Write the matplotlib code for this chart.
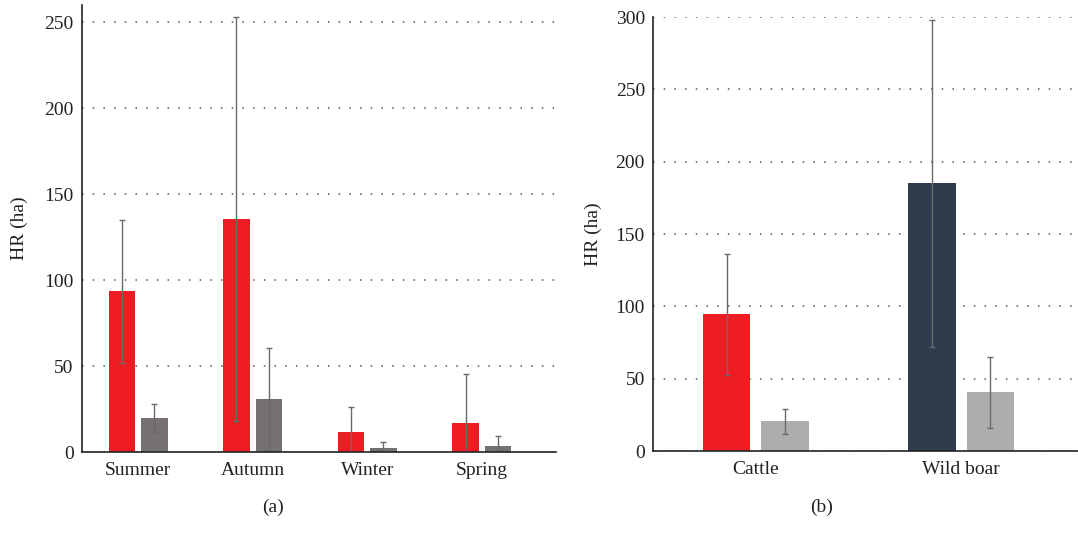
import matplotlib.pyplot as plt
import numpy as np

plt.rcParams["font.family"] = ["Liberation Serif", "DejaVu Serif"]
plt.rcParams["font.size"] = 14

# panel (a): seasons
seasons = ["Summer", "Autumn", "Winter", "Spring"]
cattle_season = [93.5, 135.5, 11.6, 16.7]
cattle_season_err = [41.7, 117.5, 14.7, 28.8]
boar_season = [20.0, 30.8, 2.5, 3.7]
boar_season_err = [8.2, 29.5, 3.5, 5.8]

# panel (b): species
species = ["Cattle", "Wild boar"]
hr_main = [94.5, 185.3]
hr_main_err = [41.6, 113.0]
hr_second = [20.5, 40.6]
hr_second_err = [8.4, 24.5]

RED = "#ee1d24"
DARK = "#767170"
LIGHT = "#adadab"
NAVY = "#2f3c4e"
ERR = "#6a6a6a"

fig = plt.figure(figsize=(10.78, 5.37), dpi=100)
ax1 = fig.add_axes([0.076, 0.158, 0.44, 0.833])
ax2 = fig.add_axes([0.606, 0.160, 0.394, 0.808])

width = 0.23
off = 0.142
ekw = dict(ecolor=ERR, elinewidth=1.0, capsize=2.5, capthick=1.0)


def style(ax, ymax, step, lpad):
    for s in ["top", "right"]:
        ax.spines[s].set_visible(False)
    ax.spines["left"].set_linewidth(1.2)
    ax.spines["bottom"].set_linewidth(1.2)
    ax.spines["left"].set_color("#222222")
    ax.spines["bottom"].set_color("#222222")
    ax.set_yticks(np.arange(0, ymax + 1, step))
    ax.tick_params(length=0, pad=6, colors="#222222")
    ax.tick_params(axis="x", pad=7)
    ax.yaxis.grid(True, color="#555555", linewidth=1.1, dashes=(1, 6))
    ax.set_axisbelow(True)
    ax.set_ylabel("HR (ha)", color="#222222", labelpad=lpad)


x = np.arange(len(seasons))
ax1.bar(x - off, cattle_season, width, color=RED, yerr=cattle_season_err, error_kw=ekw)
ax1.bar(x + off, boar_season, width, color=DARK, yerr=boar_season_err, error_kw=ekw)
ax1.set_xticks(x)
ax1.set_xticklabels(seasons)
ax1.set_xlim(-0.49, 3.65)
ax1.set_ylim(0, 260)
style(ax1, 250, 50, 12)

x2 = np.arange(len(species))
ax2.bar(x2 - off, hr_main, width, color=[RED, NAVY], yerr=hr_main_err, error_kw=ekw)
ax2.bar(x2 + off, hr_second, width, color=LIGHT, yerr=hr_second_err, error_kw=ekw)
ax2.set_xticks(x2)
ax2.set_xticklabels(species)
ax2.set_xlim(-0.5, 1.57)
ax2.set_ylim(0, 300)
style(ax2, 300, 50, 10)

fig.text(273 / 1078, 1 - 507 / 537, "(a)", ha="center", va="center", color="#222222")
fig.text(822 / 1078, 1 - 507 / 537, "(b)", ha="center", va="center", color="#222222")

fig.savefig("out.png", dpi=100)
